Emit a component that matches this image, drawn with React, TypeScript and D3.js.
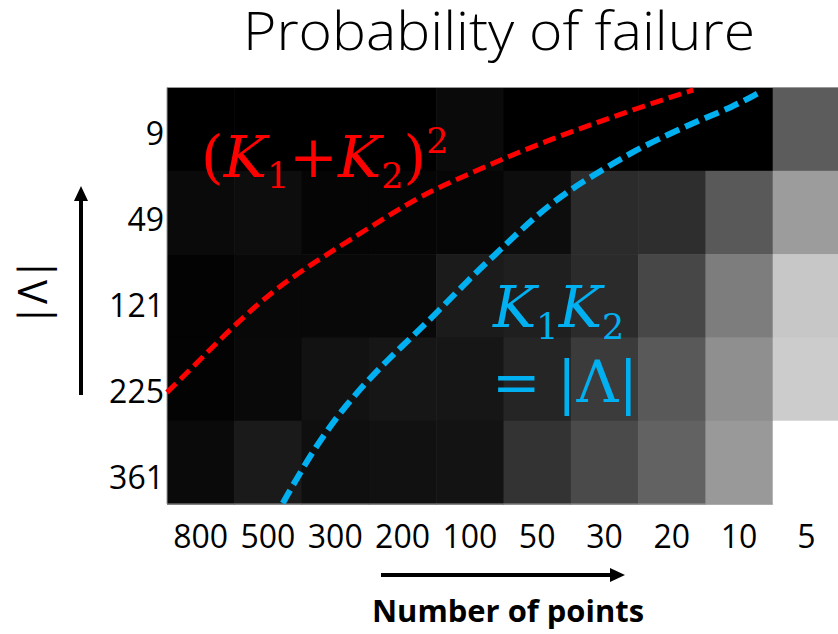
import React from 'react'
import * as d3 from 'd3'

const title = 'Probability of failure'
const xTitle = 'Number of points'
const pointCounts = ['800', '500', '300', '200', '100', '50', '30', '20', '10', '5']
const latticeSizes = ['9', '49', '121', '225', '361']

// failure probability, one array per |Λ| row, columns follow pointCounts
const fail9 = [0, 0, 0, 0, 0.04, 0, 0, 0, 0, 0.36]
const fail49 = [0.04, 0.05, 0.02, 0.02, 0.025, 0.05, 0.17, 0.18, 0.35, 0.61]
const fail121 = [0.01, 0.03, 0.03, 0.035, 0.105, 0.12, 0.17, 0.28, 0.49, 0.78]
const fail225 = [0.01, 0.035, 0.07, 0.085, 0.085, 0.145, 0.23, 0.35, 0.56, 0.8]
const fail361 = [0.04, 0.1, 0.06, 0.065, 0.075, 0.2, 0.29, 0.385, 0.6, 1.0]
const failRows = [fail9, fail49, fail121, fail225, fail361]

// curves in grid units: [column position, row position]
const sumSquaredCurve = [
  [0.0, 3.66], [0.49, 3.27], [0.98, 2.87], [1.53, 2.47], [2.08, 2.155], [2.67, 1.855],
  [3.46, 1.45], [3.95, 1.23], [4.46, 1.05], [4.95, 0.87], [5.44, 0.71], [5.94, 0.55],
  [6.43, 0.41], [6.92, 0.27], [7.43, 0.13], [7.82, 0.03]
]
const productCurve = [
  [1.72, 4.99], [2.17, 4.35], [2.67, 3.79], [3.27, 3.27], [3.86, 2.83], [4.5, 2.29],
  [4.95, 1.95], [5.44, 1.57], [5.94, 1.25], [6.43, 1.01], [6.92, 0.77], [7.43, 0.57],
  [7.92, 0.39], [8.41, 0.23], [8.78, 0.07]
]

const W = 838
const H = 634
const grid = { left: 167, right: 840, top: 87.5, bottom: 504 }
const RED = '#ff0000'
const BLUE = '#00b0f0'
const sans = "'Open Sans', 'Lato', sans-serif"
const serif = "'DejaVu Serif', 'Liberation Serif', serif"

export default function App () {
  const x = d3.scaleBand().domain(pointCounts).range([grid.left, grid.right])
  const y = d3.scaleBand().domain(latticeSizes).range([grid.top, grid.bottom])
  const gx = d3.scaleLinear().domain([0, pointCounts.length]).range([grid.left, grid.right])
  const gy = d3.scaleLinear().domain([0, latticeSizes.length]).range([grid.top, grid.bottom])
  const grey = d3.scaleLinear<string>().domain([0, 1]).range(['#000000', '#ffffff'])
  const yTickPos = d3.scalePoint().domain(latticeSizes).range([133, 477])

  const line = d3.line<number[]>()
    .x(d => gx(d[0]))
    .y(d => gy(d[1]))
    .curve(d3.curveBasis)

  const lastCol = x(pointCounts[pointCounts.length - 1]) as number
  const border = `M${grid.right},${grid.top}H${grid.left}V${grid.bottom}H${lastCol}`

  return (
    <svg width={W} height={H} style={{ position: 'absolute', left: 0, top: 0, background: '#fff' }}>
      <text x={499} y={50} textAnchor='middle' fontFamily={sans} fontWeight={300} fontSize={54}
        textLength={512} lengthAdjust='spacingAndGlyphs' fill='#000'>{title}</text>

      <g>
        {failRows.map((row, i) => row.map((v, j) => (
          <rect key={`${i}-${j}`} x={x(pointCounts[j])} y={y(latticeSizes[i])}
            width={x.bandwidth() + 0.6} height={y.bandwidth() + 0.6} fill={grey(v)} />
        )))}
        <path d={border} fill='none' stroke='#999' strokeWidth={1} />
      </g>

      <path d={line(sumSquaredCurve) || ''} fill='none' stroke={RED} strokeWidth={5} strokeDasharray='13 6' />
      <path d={line(productCurve) || ''} fill='none' stroke={BLUE} strokeWidth={6} strokeDasharray='15 6.5' />

      <text x={201} y={177} fill={RED} fontFamily={serif} fontSize={58}>
        <tspan>(</tspan>
        <tspan fontStyle='italic'>K</tspan>
        <tspan fontSize={35} dy={11}>1</tspan>
        <tspan dy={-11}>+</tspan>
        <tspan fontStyle='italic'>K</tspan>
        <tspan fontSize={35} dy={11}>2</tspan>
        <tspan dy={-11}>)</tspan>
        <tspan fontSize={35} dy={-24}>2</tspan>
      </text>

      <text x={493} y={327} fill={BLUE} fontFamily={serif} fontSize={58}>
        <tspan fontStyle='italic'>K</tspan>
        <tspan fontSize={35} dy={12}>1</tspan>
        <tspan fontStyle='italic' dy={-12}>K</tspan>
        <tspan fontSize={35} dy={12}>2</tspan>
      </text>
      <text x={492} y={402} fill={BLUE} fontFamily={serif} fontSize={58}>
        <tspan>=</tspan>
        <tspan x={557}>|Λ|</tspan>
      </text>

      <g fontFamily={sans} fontSize={32} fill='#000'>
        {latticeSizes.map(s => (
          <text key={s} x={164} y={yTickPos(s)} dy='0.36em' textAnchor='end'>{s}</text>
        ))}
        {pointCounts.map(p => (
          <text key={p} x={(x(p) as number) + x.bandwidth() / 2} y={548} textAnchor='middle'>{p}</text>
        ))}
      </g>

      <text transform='translate(35,292) rotate(-90)' textAnchor='middle' dy='0.3em'
        fontFamily={sans} fontSize={40} fill='#000'>|Λ|</text>

      <line x1={81} y1={395} x2={81} y2={198} stroke='#000' strokeWidth={4} />
      <path d='M81,186L74,201L88,201Z' fill='#000' />
      <line x1={381} y1={575} x2={612} y2={575} stroke='#000' strokeWidth={4} />
      <path d='M625,575L610,568L610,582Z' fill='#000' />

      <text x={508} y={622} textAnchor='middle' fontFamily={sans} fontWeight={700} fontSize={31}
        textLength={272} lengthAdjust='spacingAndGlyphs' fill='#000'>{xTitle}</text>
    </svg>
  )
}
